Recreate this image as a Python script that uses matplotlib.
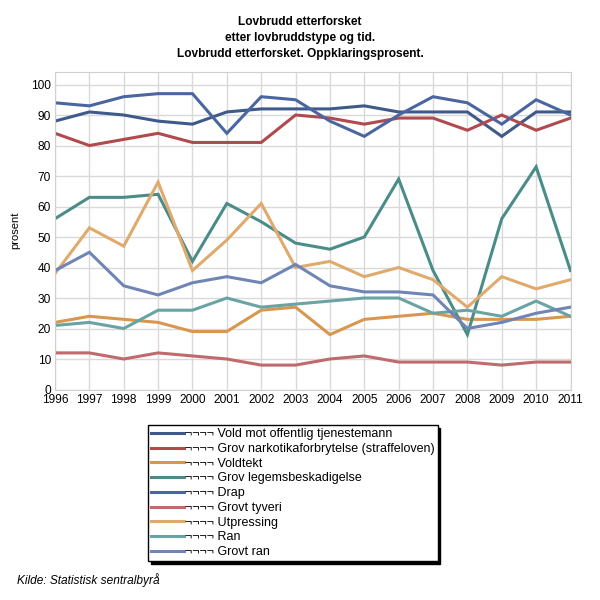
import matplotlib
matplotlib.use('Agg')
import matplotlib.pyplot as plt

plt.rcParams['font.family'] = ['Liberation Sans', 'DejaVu Sans']

years = list(range(1996, 2012))

vold_tjenestemann = [88, 91, 90, 88, 87, 91, 92, 92, 92, 93, 91, 91, 91, 83, 91, 91]
grov_narkotika = [84, 80, 82, 84, 81, 81, 81, 90, 89, 87, 89, 89, 85, 90, 85, 89]
voldtekt = [22, 24, 23, 22, 19, 19, 26, 27, 18, 23, 24, 25, 23, 23, 23, 24]
grov_legems = [56, 63, 63, 64, 42, 61, 55, 48, 46, 50, 69, 39, 18, 56, 73, 39]
drap = [94, 93, 96, 97, 97, 84, 96, 95, 88, 83, 90, 96, 94, 87, 95, 90]
grovt_tyveri = [12, 12, 10, 12, 11, 10, 8, 8, 10, 11, 9, 9, 9, 8, 9, 9]
utpressing = [38, 53, 47, 68, 39, 49, 61, 40, 42, 37, 40, 36, 27, 37, 33, 36]
ran = [21, 22, 20, 26, 26, 30, 27, 28, 29, 30, 30, 25, 26, 24, 29, 24]
grovt_ran = [39, 45, 34, 31, 35, 37, 35, 41, 34, 32, 32, 31, 20, 22, 25, 27]

series = [
    ('Vold mot offentlig tjenestemann', vold_tjenestemann, '#3f5a8a'),
    ('Grov narkotikaforbrytelse (straffeloven)', grov_narkotika, '#b04a4d'),
    ('Voldtekt', voldtekt, '#d8964f'),
    ('Grov legemsbeskadigelse', grov_legems, '#4a8c88'),
    ('Drap', drap, '#4a66a0'),
    ('Grovt tyveri', grovt_tyveri, '#c06a6c'),
    ('Utpressing', utpressing, '#e0aa6c'),
    ('Ran', ran, '#69a3a3'),
    ('Grovt ran', grovt_ran, '#6f85b5'),
]

title_lines = ['Lovbrudd etterforsket',
               'etter lovbruddstype og tid.',
               'Lovbrudd etterforsket. Oppklaringsprosent.']

fig = plt.figure(figsize=(6, 6), dpi=100)
ax = fig.add_axes([55 / 600, 1 - 389.5 / 600, 515.5 / 600, 317.8 / 600])

for name, values, color in series:
    ax.plot(years, values, color=color, linewidth=2.2, label='\u00ac\u00ac\u00ac\u00ac ' + name,
            solid_joinstyle='miter')

ax.set_xlim(1996, 2011)
ax.set_ylim(0, 104.2)
ax.set_xticks(years)
ax.set_yticks(range(0, 101, 10))
ax.grid(True, color='#d9d9d9', linewidth=1)
ax.set_axisbelow(True)
for sp in ax.spines.values():
    sp.set_color('#d0d0d0')
ax.tick_params(length=0, labelsize=8.6, pad=3)
ax.set_ylabel('prosent', fontsize=8, labelpad=8)

for i, line in enumerate(title_lines):
    fig.text(0.5, 1 - (22 + 16 * i) / 600, line, ha='center', va='center',
             fontsize=8.6, fontweight='bold')

leg = fig.legend(loc='upper left', bbox_to_anchor=(148 / 600, 1 - 425 / 600),
                 prop={'size': 9}, frameon=True, fancybox=False,
                 shadow={'color': 'black', 'alpha': 1},
                 handlelength=2.6, handletextpad=0.1, labelspacing=0.22,
                 borderpad=0.25, borderaxespad=0)
leg.get_frame().set_edgecolor('black')
leg.get_frame().set_linewidth(1)

fig.text(17 / 600, 1 - 580 / 600, 'Kilde: Statistisk sentralbyrå', fontsize=8.6,
         style='italic', va='center')

fig.savefig('out.png', dpi=100)
